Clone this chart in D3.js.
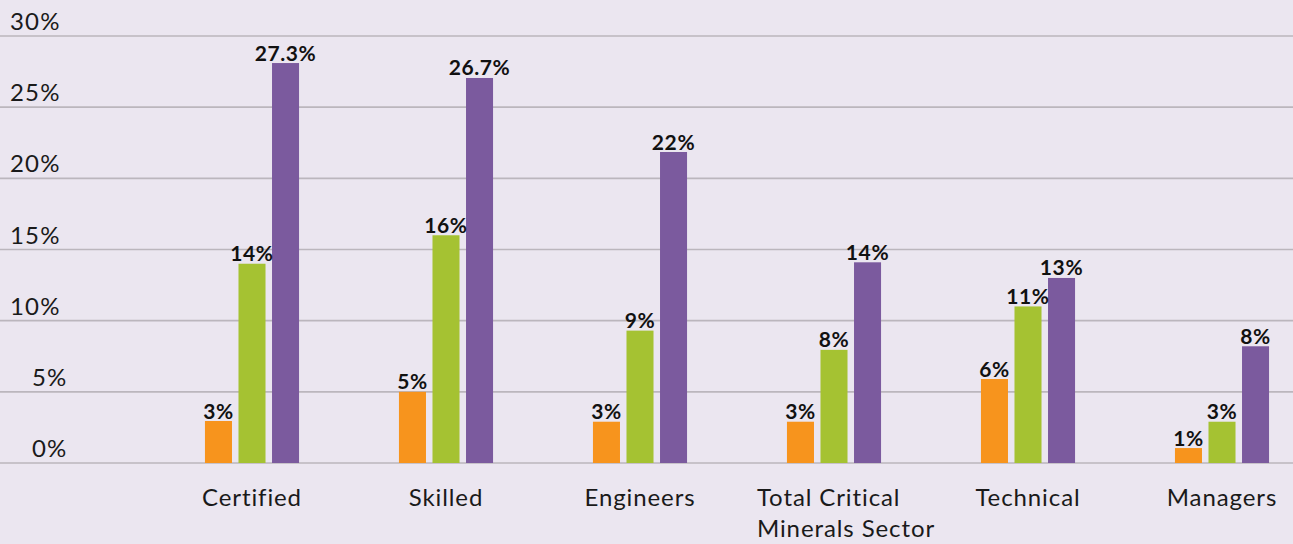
<!DOCTYPE html>
<html>
<head>
<meta charset="utf-8">
<script src="https://cdn.jsdelivr.net/npm/d3@7"></script>
<style>
  html, body { margin: 0; padding: 0; background: #ebe6f0; }
  svg { display: block; }
</style>
</head>
<body>
<svg id="chart" width="1293" height="544"></svg>
<script>
// ---- data ----
const categories = ["Certified", "Skilled", "Engineers", "Total Critical\nMinerals Sector", "Technical", "Managers"];
const seriesNames = ["s1", "s2", "s3"];
const series1 = [2.95, 5.0, 2.9, 2.9, 5.9, 1.05];
const series2 = [14.0, 16.0, 9.3, 7.95, 11.0, 2.9];
const series3 = [28.1, 27.05, 21.85, 14.1, 13.0, 8.2];
const labels1 = ["3%", "5%", "3%", "3%", "6%", "1%"];
const labels2 = ["14%", "16%", "9%", "8%", "11%", "3%"];
const labels3 = ["27.3%", "26.7%", "22%", "14%", "13%", "8%"];
const yTicks = [0, 5, 10, 15, 20, 25, 30];
const yTickLabels = ["0%", "5%", "10%", "15%", "20%", "25%", "30%"];
const colors = ["#f7941d", "#a5c232", "#7b5a9e"];

const seriesValues = [series1, series2, series3];
const seriesLabels = [labels1, labels2, labels3];

const svg = d3.select("#chart");
const W = 1293, H = 544;
const font = "Lato, 'Open Sans', sans-serif";

const y = d3.scaleLinear().domain([0, 30]).range([463, 36]);
const x = d3.scaleBand().domain(categories).range([155, 1319]).paddingInner(0.515).paddingOuter(0.2575);
const xs = d3.scaleBand().domain(seriesNames).range([0, x.bandwidth()]).paddingInner(0.194);

// gridlines
svg.append("g").selectAll("line").data(yTicks).join("line")
  .attr("x1", 0).attr("x2", W)
  .attr("y1", d => y(d)).attr("y2", d => y(d))
  .attr("stroke", "#bbb6bd").attr("stroke-width", 1.6);

// y labels
svg.append("g").selectAll("text").data(yTicks).join("text")
  .attr("x", (d, i) => yTickLabels[i].length > 2 ? 10 : 32)
  .attr("y", d => y(d) - 6)
  .attr("font-family", font).attr("font-size", 24).attr("letter-spacing", 1.2).attr("fill", "#1a1a1a")
  .text((d, i) => yTickLabels[i]);

// bars
const rows = [];
categories.forEach((c, ci) => {
  seriesNames.forEach((s, si) => {
    rows.push({ c, s, si, v: seriesValues[si][ci], label: seriesLabels[si][ci] });
  });
});

const g = svg.append("g");
g.selectAll("rect").data(rows).join("rect")
  .attr("x", d => x(d.c) + xs(d.s))
  .attr("width", xs.bandwidth())
  .attr("y", d => y(d.v))
  .attr("height", d => y(0) - y(d.v))
  .attr("fill", d => colors[d.si]);

g.selectAll("text").data(rows).join("text")
  .attr("x", d => x(d.c) + xs(d.s) + xs.bandwidth() / 2)
  .attr("y", d => y(d.v) - 2.5)
  .attr("text-anchor", "middle")
  .attr("font-family", font).attr("font-size", 21).attr("font-weight", 700).attr("letter-spacing", 0.6)
  .attr("fill", "#111")
  .text(d => d.label);

// category labels
const cat = svg.append("g");
categories.forEach(c => {
  const lines = c.split("\n");
  const cx = x(c) + x.bandwidth() / 2;
  const t = cat.append("text")
    .attr("font-family", font).attr("font-size", 24).attr("letter-spacing", 0.9).attr("fill", "#1a1a1a");
  if (lines.length === 1) {
    t.attr("x", cx).attr("y", 506).attr("text-anchor", "middle").text(c);
  } else {
    lines.forEach((l, i) => {
      t.append("tspan").attr("y", 506 + i * 31).text(l);
    });
    const spans = t.selectAll("tspan").nodes();
    const maxW = d3.max(spans, n => n.getComputedTextLength());
    t.selectAll("tspan").attr("x", cx + 12 - maxW / 2);
  }
});
</script>
</body>
</html>
